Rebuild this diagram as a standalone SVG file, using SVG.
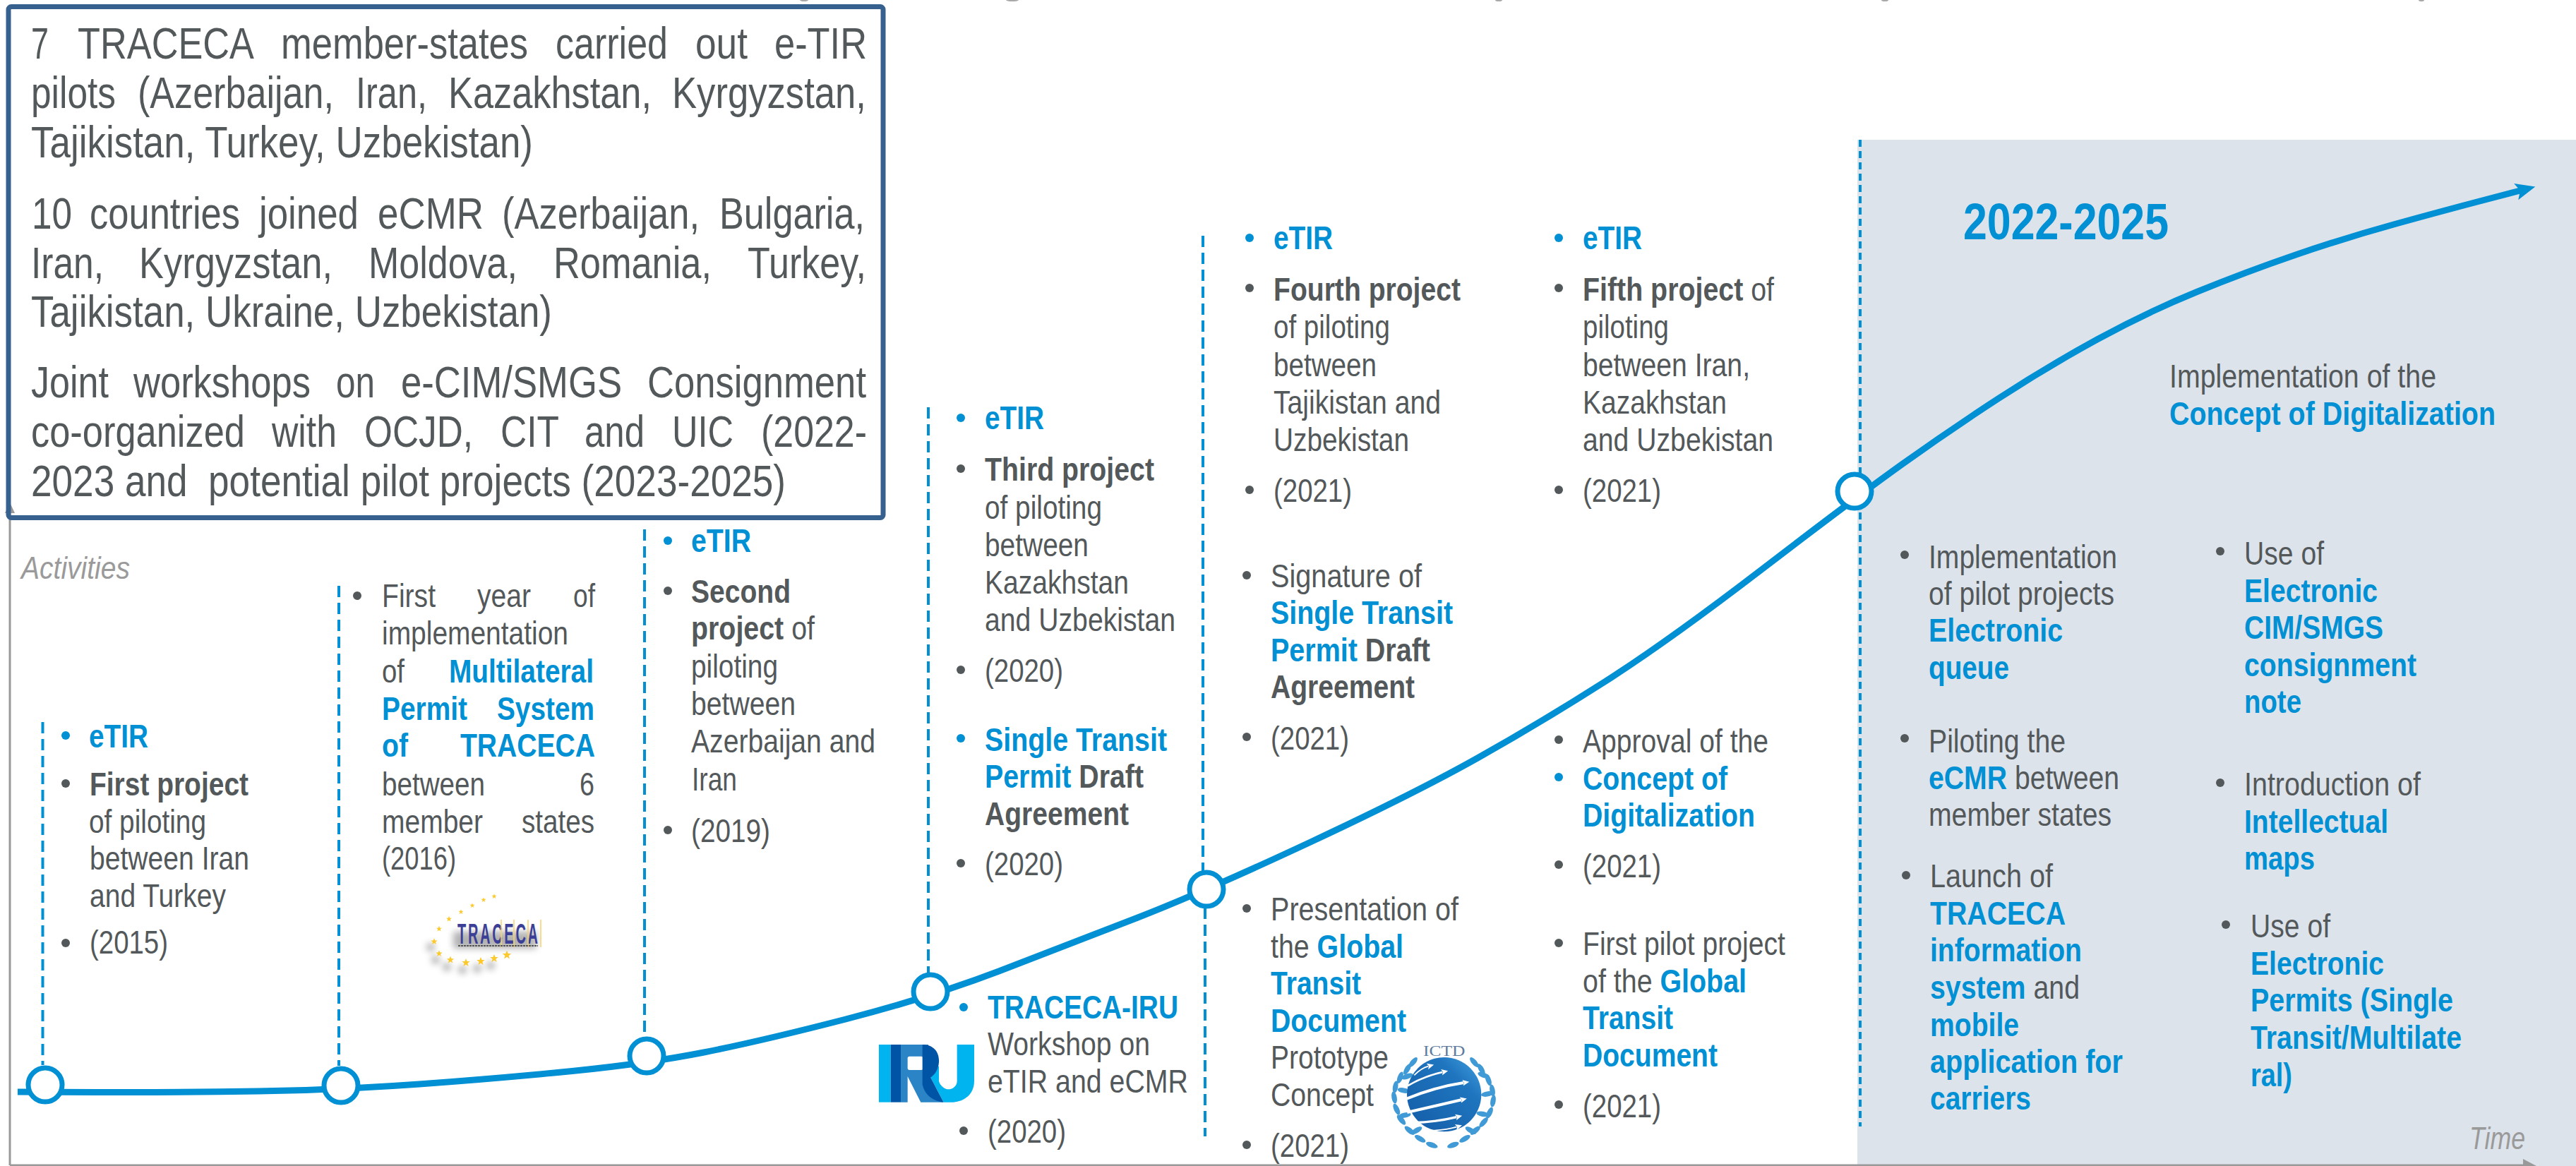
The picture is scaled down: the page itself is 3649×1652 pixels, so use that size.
<svg xmlns="http://www.w3.org/2000/svg" xmlns:xlink="http://www.w3.org/1999/xlink" width="3649" height="1652" viewBox="0 0 3649 1652">
<style>
text{font-family:"Liberation Sans",Arial,sans-serif}
.t{font-size:46px;fill:#53585a}
.l{font-size:63px;fill:#53585a}
.n{font-weight:700;fill:#0090d3}
.k{font-weight:700;fill:#53585a}
.r{fill:#53585a;font-weight:400}
.i{font-size:44px;font-style:italic;fill:#9a9a9a}
.d{fill:#53585a}
.e{fill:#0090d3}
.dash{fill:none;stroke:#0090d3;stroke-width:4;stroke-dasharray:16 8}
.node{fill:#fff;stroke:#0090d3;stroke-width:7}
.star{fill:#fcc92c}
.leaf{fill:#3f9ad6}
.arr{fill:none;stroke:#fff;stroke-width:12;marker-end:url(#wh)}
</style>
<defs>
<marker id="head" markerUnits="userSpaceOnUse" markerWidth="32" markerHeight="26" refX="6" refY="13" orient="auto"><path d="M0 1 L28 13 L0 25 L6 13 Z" fill="#0090d3"/></marker>
<marker id="wh" markerUnits="userSpaceOnUse" markerWidth="36" markerHeight="36" refX="4" refY="18" orient="auto"><path d="M0 5 L28 18 L0 31 L6 18 Z" fill="#fff"/></marker>
<filter id="blur" x="-30%" y="-30%" width="160%" height="160%"><feGaussianBlur stdDeviation="5"/></filter>
<linearGradient id="globe" x1="0" y1="1" x2="1" y2="0"><stop offset="0" stop-color="#145ca6"/><stop offset=".7" stop-color="#1f75bf"/><stop offset="1" stop-color="#45a3e0"/></linearGradient>
<path id="s" d="M0 -6 L1.6 -1.9 L5.7 -1.9 L2.4 .8 L3.5 5 L0 2.6 L-3.5 5 L-2.4 .8 L-5.7 -1.9 L-1.6 -1.9 Z"/>
<ellipse id="lf" rx="26" ry="11" class="leaf"/>
</defs>

<rect id="period-2022-2025" x="2631" y="198" width="1018" height="1454" fill="#dde3eb"/>

<g id="top-marks" fill="#a8a8a8">
<ellipse cx="1139" cy="0" rx="6" ry="2"/><ellipse cx="1434" cy="0" rx="9" ry="2"/><ellipse cx="2123" cy="0" rx="5" ry="2"/><ellipse cx="2670" cy="0" rx="5" ry="2"/><ellipse cx="3430" cy="0" rx="4" ry="2"/>
</g>

<g id="axes">
<path d="M14 1651 V720 M14 1651 H3580" fill="none" stroke="#999" stroke-width="3"/>
<path d="M14 712 L21 727 H7 Z" fill="#999"/>
<path d="M3574 1642 L3593 1652 L3593 1660 H3574 Z" fill="#999"/>
</g>

<g id="connectors">
<path class="dash" d="M60.500 1023 V1509"/>
<path class="dash" d="M480 830 V1510"/>
<path class="dash" d="M913 750 V1463"/>
<path class="dash" d="M1315 577 V1378"/>
<path class="dash" d="M1704 334 V1234"/>
<path class="dash" d="M1707 1286 V1610"/>
<path class="dash" d="M2635 198 V1596" style="stroke-dasharray:10 6"/>
<path id="timeline" fill="none" stroke="#0090d3" stroke-width="9" marker-end="url(#head)" d="M25 1547 L137 1547.500 Q249 1548 366 1546 Q483 1544 594 1536 Q705 1528 810.500 1517.500 Q916 1507 997 1491 Q1078 1475 1198 1444 Q1318 1413 1415 1376 Q1512 1339 1610.500 1300.500 Q1709 1262 1856.500 1193 Q2004 1124 2093 1074 Q2182 1024 2271.500 967 Q2361 910 2494 808 Q2627 706 2694 658 Q2761 610 2831 564.500 Q2901 519 2971.500 480.500 Q3042 442 3112 413.500 Q3182 385 3252 361 Q3322 337 3392.500 317.500 Q3463 298 3516.500 284 L3570 270"/>
</g>

<g id="milestones">
<circle class="node" cx="64" cy="1537" r="24"/>
<circle class="node" cx="483" cy="1538" r="24"/>
<circle class="node" cx="916" cy="1496" r="24"/>
<circle class="node" cx="1318" cy="1405" r="24"/>
<circle class="node" cx="1709" cy="1260" r="24"/>
<circle class="node" cx="2627" cy="696" r="24"/>
</g>

<g id="summary-box">
<g transform="translate(-2 0)">
<text class="l" x="46" y="83" textLength="25" lengthAdjust="spacingAndGlyphs">7</text>
<text class="l" x="112" y="83" textLength="250" lengthAdjust="spacingAndGlyphs">TRACECA</text>
<text class="l" x="400" y="83" textLength="350" lengthAdjust="spacingAndGlyphs">member-states</text>
<text class="l" x="789" y="83" textLength="159" lengthAdjust="spacingAndGlyphs">carried</text>
<text class="l" x="987" y="83" textLength="74" lengthAdjust="spacingAndGlyphs">out</text>
<text class="l" x="1099" y="83" textLength="131" lengthAdjust="spacingAndGlyphs">e-TIR</text>
<text class="l" x="46" y="153" textLength="120" lengthAdjust="spacingAndGlyphs">pilots</text>
<text class="l" x="197" y="153" textLength="278" lengthAdjust="spacingAndGlyphs">(Azerbaijan,</text>
<text class="l" x="506" y="153" textLength="101" lengthAdjust="spacingAndGlyphs">Iran,</text>
<text class="l" x="637" y="153" textLength="288" lengthAdjust="spacingAndGlyphs">Kazakhstan,</text>
<text class="l" x="954" y="153" textLength="275" lengthAdjust="spacingAndGlyphs">Kyrgyzstan,</text>
<text class="l" x="46" y="223" textLength="711" lengthAdjust="spacingAndGlyphs">Tajikistan, Turkey, Uzbekistan)</text>
<text class="l" x="47" y="324" textLength="57" lengthAdjust="spacingAndGlyphs">10</text>
<text class="l" x="129" y="324" textLength="213" lengthAdjust="spacingAndGlyphs">countries</text>
<text class="l" x="369" y="324" textLength="141" lengthAdjust="spacingAndGlyphs">joined</text>
<text class="l" x="537" y="324" textLength="150" lengthAdjust="spacingAndGlyphs">eCMR</text>
<text class="l" x="713" y="324" textLength="280" lengthAdjust="spacingAndGlyphs">(Azerbaijan,</text>
<text class="l" x="1021" y="324" textLength="206" lengthAdjust="spacingAndGlyphs">Bulgaria,</text>
<text class="l" x="46" y="394" textLength="103" lengthAdjust="spacingAndGlyphs">Iran,</text>
<text class="l" x="199" y="394" textLength="274" lengthAdjust="spacingAndGlyphs">Kyrgyzstan,</text>
<text class="l" x="524" y="394" textLength="211" lengthAdjust="spacingAndGlyphs">Moldova,</text>
<text class="l" x="786" y="394" textLength="224" lengthAdjust="spacingAndGlyphs">Romania,</text>
<text class="l" x="1061" y="394" textLength="168" lengthAdjust="spacingAndGlyphs">Turkey,</text>
<text class="l" x="46" y="463" textLength="738" lengthAdjust="spacingAndGlyphs">Tajikistan, Ukraine, Uzbekistan)</text>
<text class="l" x="46" y="563" textLength="110" lengthAdjust="spacingAndGlyphs">Joint</text>
<text class="l" x="191" y="563" textLength="251" lengthAdjust="spacingAndGlyphs">workshops</text>
<text class="l" x="478" y="563" textLength="55" lengthAdjust="spacingAndGlyphs">on</text>
<text class="l" x="570" y="563" textLength="313" lengthAdjust="spacingAndGlyphs">e-CIM/SMGS</text>
<text class="l" x="919" y="563" textLength="310" lengthAdjust="spacingAndGlyphs">Consignment</text>
<text class="l" x="46" y="633" textLength="303" lengthAdjust="spacingAndGlyphs">co-organized</text>
<text class="l" x="387" y="633" textLength="92" lengthAdjust="spacingAndGlyphs">with</text>
<text class="l" x="518" y="633" textLength="154" lengthAdjust="spacingAndGlyphs">OCJD,</text>
<text class="l" x="711" y="633" textLength="83" lengthAdjust="spacingAndGlyphs">CIT</text>
<text class="l" x="830" y="633" textLength="85" lengthAdjust="spacingAndGlyphs">and</text>
<text class="l" x="954" y="633" textLength="87" lengthAdjust="spacingAndGlyphs">UIC</text>
<text class="l" x="1080" y="633" textLength="150" lengthAdjust="spacingAndGlyphs">(2022-</text>
<text class="l" x="46" y="703" textLength="1069" lengthAdjust="spacingAndGlyphs" xml:space="preserve">2023 and  potential pilot projects (2023-2025)</text>
</g>
<rect x="12" y="9.500" width="1239" height="724" rx="4" fill="none" stroke="#36618f" stroke-width="7"/>
</g>

<text id="label-activities" class="i" x="30" y="820" textLength="154" lengthAdjust="spacingAndGlyphs">Activities</text>
<text id="label-time" class="i" x="3498" y="1628" textLength="79" lengthAdjust="spacingAndGlyphs">Time</text>

<g id="activity-2015" transform="translate(-1 0)">
<circle class="e" cx="94" cy="1042" r="6"/><circle class="d" cx="94" cy="1110" r="6"/><circle class="d" cx="94" cy="1336" r="6"/>
<text class="t n" x="127" y="1059" textLength="84" lengthAdjust="spacingAndGlyphs">eTIR</text>
<text class="t k" x="128" y="1127" textLength="225" lengthAdjust="spacingAndGlyphs">First project</text>
<text class="t" x="127" y="1180" textLength="166" lengthAdjust="spacingAndGlyphs">of piloting</text>
<text class="t" x="128" y="1232" textLength="226" lengthAdjust="spacingAndGlyphs">between Iran</text>
<text class="t" x="128" y="1285" textLength="193" lengthAdjust="spacingAndGlyphs">and Turkey</text>
<text class="t" x="128" y="1351" textLength="111" lengthAdjust="spacingAndGlyphs">(2015)</text>
</g>

<g id="activity-2016" transform="translate(-1 0)">
<circle class="d" cx="507" cy="844" r="6"/>
<text class="t" x="542" y="860" textLength="76" lengthAdjust="spacingAndGlyphs">First</text>
<text class="t" x="677" y="860" textLength="76" lengthAdjust="spacingAndGlyphs">year</text>
<text class="t" x="813" y="860" textLength="31" lengthAdjust="spacingAndGlyphs">of</text>
<text class="t" x="542" y="913" textLength="264" lengthAdjust="spacingAndGlyphs">implementation</text>
<text class="t" x="542" y="967" textLength="32" lengthAdjust="spacingAndGlyphs">of</text>
<text class="t n" x="637" y="967" textLength="205" lengthAdjust="spacingAndGlyphs">Multilateral</text>
<text class="t n" x="542" y="1020" textLength="121" lengthAdjust="spacingAndGlyphs">Permit</text>
<text class="t n" x="705" y="1020" textLength="138" lengthAdjust="spacingAndGlyphs">System</text>
<text class="t n" x="542" y="1072" textLength="37" lengthAdjust="spacingAndGlyphs">of</text>
<text class="t n" x="653" y="1072" textLength="191" lengthAdjust="spacingAndGlyphs">TRACECA</text>
<text class="t" x="542" y="1127" textLength="146" lengthAdjust="spacingAndGlyphs">between</text>
<text class="t" x="822" y="1127" textLength="21" lengthAdjust="spacingAndGlyphs">6</text>
<text class="t" x="542" y="1180" textLength="143" lengthAdjust="spacingAndGlyphs">member</text>
<text class="t" x="740" y="1180" textLength="103" lengthAdjust="spacingAndGlyphs">states</text>
<text class="t" x="542" y="1232" textLength="105" lengthAdjust="spacingAndGlyphs">(2016)</text>
</g>

<g id="logo-traceca">
<g filter="url(#blur)" fill="#808080" opacity=".6">
<rect x="642" y="1320" width="118" height="24"/>
<circle cx="610" cy="1342" r="6"/><circle cx="617" cy="1360" r="6"/><circle cx="633" cy="1370" r="6"/><circle cx="655" cy="1374" r="6"/><circle cx="676" cy="1372" r="6"/><circle cx="695" cy="1368" r="6"/>
</g>
<g class="star">
<use xlink:href="#s" href="#s" transform="translate(700 1270) scale(.6)"/>
<use xlink:href="#s" href="#s" transform="translate(685 1275) scale(.6)"/>
<use xlink:href="#s" href="#s" transform="translate(669 1283) scale(.6)"/>
<use xlink:href="#s" href="#s" transform="translate(653 1292) scale(.6)"/>
<use xlink:href="#s" href="#s" transform="translate(636 1302) scale(.7)"/>
<use xlink:href="#s" href="#s" transform="translate(622 1316) scale(.7)"/>
<use xlink:href="#s" href="#s" transform="translate(615 1334) scale(.8)"/>
<use xlink:href="#s" href="#s" transform="translate(622 1351) scale(.8)"/>
<use xlink:href="#s" href="#s" transform="translate(638 1360) scale(.9)"/>
<use xlink:href="#s" href="#s" transform="translate(660 1364) scale(1)"/>
<use xlink:href="#s" href="#s" transform="translate(681 1362) scale(1)"/>
<use xlink:href="#s" href="#s" transform="translate(700 1358) scale(1)"/>
<use xlink:href="#s" href="#s" transform="translate(718 1353) scale(1.100)"/>
</g>
<text transform="translate(648 1337) scale(.5 1)" font-size="40" font-weight="700" fill="#3b3f96" textLength="228" lengthAdjust="spacing">TRACECA</text>
<path d="M710 1303 V1342 M728 1303 V1342 M748 1303 V1342 M766 1303 V1342" stroke="#f7d26a" stroke-width="1.500" fill="none"/>
<path d="M649 1340 H762" stroke="#555" stroke-width="2" stroke-dasharray="3 1" fill="none"/>
</g>

<g id="activity-2019" transform="translate(-1 0)">
<circle class="e" cx="947" cy="766" r="6"/><circle class="d" cx="947" cy="837" r="6"/><circle class="d" cx="947" cy="1176" r="6"/>
<text class="t n" x="980" y="782" textLength="85" lengthAdjust="spacingAndGlyphs">eTIR</text>
<text class="t k" x="980" y="854" textLength="141" lengthAdjust="spacingAndGlyphs">Second</text>
<text class="t" x="980" y="906" textLength="175" lengthAdjust="spacingAndGlyphs"><tspan class="k">project</tspan> of</text>
<text class="t" x="980" y="960" textLength="123" lengthAdjust="spacingAndGlyphs">piloting</text>
<text class="t" x="980" y="1013" textLength="148" lengthAdjust="spacingAndGlyphs">between</text>
<text class="t" x="980" y="1066" textLength="261" lengthAdjust="spacingAndGlyphs">Azerbaijan and</text>
<text class="t" x="981" y="1120" textLength="64" lengthAdjust="spacingAndGlyphs">Iran</text>
<text class="t" x="980" y="1193" textLength="112" lengthAdjust="spacingAndGlyphs">(2019)</text>
</g>

<g id="activity-2020" transform="translate(-1 -1)">
<circle class="e" cx="1362" cy="593" r="6"/><circle class="d" cx="1362" cy="665" r="6"/><circle class="d" cx="1362" cy="950" r="6"/><circle class="e" cx="1362" cy="1047" r="6"/><circle class="d" cx="1362" cy="1224" r="6"/><circle class="e" cx="1366" cy="1428" r="6"/><circle class="d" cx="1366" cy="1603" r="6"/>
<text class="t n" x="1396" y="609" textLength="84" lengthAdjust="spacingAndGlyphs">eTIR</text>
<text class="t k" x="1396" y="682" textLength="240" lengthAdjust="spacingAndGlyphs">Third project</text>
<text class="t" x="1396" y="736" textLength="166" lengthAdjust="spacingAndGlyphs">of piloting</text>
<text class="t" x="1396" y="789" textLength="147" lengthAdjust="spacingAndGlyphs">between</text>
<text class="t" x="1396" y="842" textLength="204" lengthAdjust="spacingAndGlyphs">Kazakhstan</text>
<text class="t" x="1396" y="895" textLength="270" lengthAdjust="spacingAndGlyphs">and Uzbekistan</text>
<text class="t" x="1396" y="967" textLength="111" lengthAdjust="spacingAndGlyphs">(2020)</text>
<text class="t n" x="1396" y="1065" textLength="258" lengthAdjust="spacingAndGlyphs">Single Transit</text>
<text class="t n" x="1396" y="1117" textLength="225" lengthAdjust="spacingAndGlyphs">Permit <tspan class="k">Draft</tspan></text>
<text class="t k" x="1396" y="1170" textLength="204" lengthAdjust="spacingAndGlyphs">Agreement</text>
<text class="t" x="1396" y="1241" textLength="111" lengthAdjust="spacingAndGlyphs">(2020)</text>
<text class="t n" x="1400" y="1444" textLength="270" lengthAdjust="spacingAndGlyphs">TRACECA-IRU</text>
<text class="t" x="1400" y="1496" textLength="230" lengthAdjust="spacingAndGlyphs">Workshop on</text>
<text class="t" x="1400" y="1549" textLength="284" lengthAdjust="spacingAndGlyphs">eTIR and eCMR</text>
<text class="t" x="1400" y="1620" textLength="111" lengthAdjust="spacingAndGlyphs">(2020)</text>
</g>

<g id="logo-iru" transform="translate(1235 1470) scale(.3333)">
<rect x="30" y="30" width="50" height="245" fill="#00b5ef"/>
<path d="M362 30 H435 V185 C435 250 380 275 340 275 H305 L250 170 L285 120 V185 C290 205 310 220 325 220 C345 220 362 205 362 185 Z" fill="#00b5ef"/>
<path d="M123 30 H240 V240 L305 275 H208 L152 165 V275 H123 Z" fill="#2b84c6"/>
<rect x="152" y="80" width="66" height="58" rx="8" fill="#fff"/>
<rect x="80" y="30" width="43" height="245" fill="#0054a6"/>
<path d="M215 30 C265 30 288 65 285 105 C283 135 270 155 250 170 L305 275 C260 270 225 245 215 200 Z" fill="#0054a6"/>
</g>

<g id="activity-2021-a" transform="translate(-1 -1)">
<circle class="e" cx="1771" cy="338" r="6"/><circle class="d" cx="1771" cy="409" r="6"/><circle class="d" cx="1771" cy="695" r="6"/><circle class="d" cx="1767" cy="816" r="6"/><circle class="d" cx="1767" cy="1045" r="6"/><circle class="d" cx="1767" cy="1288" r="6"/><circle class="d" cx="1767" cy="1623" r="6"/>
<text class="t n" x="1805" y="354" textLength="84" lengthAdjust="spacingAndGlyphs">eTIR</text>
<text class="t k" x="1805" y="427" textLength="265" lengthAdjust="spacingAndGlyphs">Fourth project</text>
<text class="t" x="1805" y="480" textLength="165" lengthAdjust="spacingAndGlyphs">of piloting</text>
<text class="t" x="1805" y="534" textLength="146" lengthAdjust="spacingAndGlyphs">between</text>
<text class="t" x="1805" y="587" textLength="237" lengthAdjust="spacingAndGlyphs">Tajikistan and</text>
<text class="t" x="1805" y="640" textLength="192" lengthAdjust="spacingAndGlyphs">Uzbekistan</text>
<text class="t" x="1805" y="712" textLength="111" lengthAdjust="spacingAndGlyphs">(2021)</text>
<text class="t" x="1801" y="833" textLength="214" lengthAdjust="spacingAndGlyphs">Signature of</text>
<text class="t n" x="1801" y="885" textLength="258" lengthAdjust="spacingAndGlyphs">Single Transit</text>
<text class="t n" x="1801" y="938" textLength="226" lengthAdjust="spacingAndGlyphs">Permit <tspan class="k">Draft</tspan></text>
<text class="t k" x="1801" y="990" textLength="204" lengthAdjust="spacingAndGlyphs">Agreement</text>
<text class="t" x="1801" y="1063" textLength="111" lengthAdjust="spacingAndGlyphs">(2021)</text>
<text class="t" x="1801" y="1305" textLength="266" lengthAdjust="spacingAndGlyphs">Presentation of</text>
<text class="t" x="1801" y="1358" textLength="188" lengthAdjust="spacingAndGlyphs">the <tspan class="n">Global</tspan></text>
<text class="t n" x="1801" y="1410" textLength="128" lengthAdjust="spacingAndGlyphs">Transit</text>
<text class="t n" x="1801" y="1463" textLength="192" lengthAdjust="spacingAndGlyphs">Document</text>
<text class="t" x="1801" y="1515" textLength="167" lengthAdjust="spacingAndGlyphs">Prototype</text>
<text class="t" x="1801" y="1568" textLength="146" lengthAdjust="spacingAndGlyphs">Concept</text>
<text class="t" x="1801" y="1640" textLength="111" lengthAdjust="spacingAndGlyphs">(2021)</text>
</g>

<g id="logo-ictd" transform="translate(1960 1460) scale(.3333)">
<text x="168" y="108" font-size="62" fill="#5d7c9d" textLength="178" lengthAdjust="spacingAndGlyphs" style="font-family:'Liberation Serif',serif">ICTD</text>
<g>
<use xlink:href="#lf" href="#lf" transform="translate(125 135) rotate(-50)"/><use xlink:href="#lf" href="#lf" transform="translate(100 165) rotate(-60)"/><use xlink:href="#lf" href="#lf" transform="translate(70 200) rotate(-70)"/><use xlink:href="#lf" href="#lf" transform="translate(50 240) rotate(-80)"/><use xlink:href="#lf" href="#lf" transform="translate(45 285) rotate(80)"/><use xlink:href="#lf" href="#lf" transform="translate(55 335) rotate(65)"/><use xlink:href="#lf" href="#lf" transform="translate(75 380) rotate(50)"/><use xlink:href="#lf" href="#lf" transform="translate(110 425) rotate(40)"/><use xlink:href="#lf" href="#lf" transform="translate(155 460) rotate(30)"/><use xlink:href="#lf" href="#lf" transform="translate(205 487) rotate(20)"/>
<use xlink:href="#lf" href="#lf" transform="translate(100 195) rotate(-20)"/><use xlink:href="#lf" href="#lf" transform="translate(85 255) rotate(10)"/><use xlink:href="#lf" href="#lf" transform="translate(90 360) rotate(-10)"/><use xlink:href="#lf" href="#lf" transform="translate(140 425) rotate(-30)"/>
<use xlink:href="#lf" href="#lf" transform="translate(385 135) rotate(50)"/><use xlink:href="#lf" href="#lf" transform="translate(415 165) rotate(60)"/><use xlink:href="#lf" href="#lf" transform="translate(445 210) rotate(70)"/><use xlink:href="#lf" href="#lf" transform="translate(462 255) rotate(80)"/><use xlink:href="#lf" href="#lf" transform="translate(465 300) rotate(-80)"/><use xlink:href="#lf" href="#lf" transform="translate(450 350) rotate(-65)"/><use xlink:href="#lf" href="#lf" transform="translate(425 390) rotate(-50)"/><use xlink:href="#lf" href="#lf" transform="translate(390 425) rotate(-40)"/><use xlink:href="#lf" href="#lf" transform="translate(345 460) rotate(-30)"/><use xlink:href="#lf" href="#lf" transform="translate(295 487) rotate(-20)"/>
<use xlink:href="#lf" href="#lf" transform="translate(425 190) rotate(20)"/><use xlink:href="#lf" href="#lf" transform="translate(440 270) rotate(-10)"/><use xlink:href="#lf" href="#lf" transform="translate(420 355) rotate(10)"/><use xlink:href="#lf" href="#lf" transform="translate(370 425) rotate(30)"/>
</g>
<circle cx="257" cy="272" r="158" fill="url(#globe)"/>
<path class="arr" style="stroke-width:5" d="M130 190 Q160 160 190 152"/>
<path class="arr" style="stroke-width:8" d="M102 235 Q170 195 250 177"/>
<path class="arr" style="stroke-width:12" d="M98 290 Q220 240 340 222"/>
<path class="arr" style="stroke-width:12" d="M100 348 Q220 320 330 295"/>
<path class="arr" style="stroke-width:10" d="M122 392 Q220 390 310 368"/>
<path class="arr" style="stroke-width:5" d="M190 425 Q260 425 310 410"/>
</g>

<g id="activity-2021-b" transform="translate(-1 -1)">
<circle class="e" cx="2209" cy="338" r="6"/><circle class="d" cx="2209" cy="409" r="6"/><circle class="d" cx="2209" cy="695" r="6"/><circle class="d" cx="2209" cy="1049" r="6"/><circle class="e" cx="2209" cy="1102" r="6"/><circle class="d" cx="2209" cy="1226" r="6"/><circle class="d" cx="2209" cy="1337" r="6"/><circle class="d" cx="2209" cy="1566" r="6"/>
<text class="t n" x="2243" y="354" textLength="84" lengthAdjust="spacingAndGlyphs">eTIR</text>
<text class="t" x="2243" y="427" textLength="271" lengthAdjust="spacingAndGlyphs"><tspan class="k">Fifth project</tspan> of</text>
<text class="t" x="2243" y="480" textLength="122" lengthAdjust="spacingAndGlyphs">piloting</text>
<text class="t" x="2243" y="534" textLength="237" lengthAdjust="spacingAndGlyphs">between Iran,</text>
<text class="t" x="2243" y="587" textLength="204" lengthAdjust="spacingAndGlyphs">Kazakhstan</text>
<text class="t" x="2243" y="640" textLength="270" lengthAdjust="spacingAndGlyphs">and Uzbekistan</text>
<text class="t" x="2243" y="712" textLength="111" lengthAdjust="spacingAndGlyphs">(2021)</text>
<text class="t" x="2243" y="1067" textLength="263" lengthAdjust="spacingAndGlyphs">Approval of the</text>
<text class="t n" x="2243" y="1120" textLength="205" lengthAdjust="spacingAndGlyphs">Concept of</text>
<text class="t n" x="2243" y="1172" textLength="244" lengthAdjust="spacingAndGlyphs">Digitalization</text>
<text class="t" x="2243" y="1244" textLength="111" lengthAdjust="spacingAndGlyphs">(2021)</text>
<text class="t" x="2243" y="1354" textLength="287" lengthAdjust="spacingAndGlyphs">First pilot project</text>
<text class="t" x="2243" y="1407" textLength="232" lengthAdjust="spacingAndGlyphs">of the <tspan class="n">Global</tspan></text>
<text class="t n" x="2243" y="1459" textLength="128" lengthAdjust="spacingAndGlyphs">Transit</text>
<text class="t n" x="2243" y="1512" textLength="191" lengthAdjust="spacingAndGlyphs">Document</text>
<text class="t" x="2243" y="1584" textLength="111" lengthAdjust="spacingAndGlyphs">(2021)</text>
</g>

<g id="period-heading" transform="translate(-2 0)">
<text x="2783" y="339" font-size="72" class="n" textLength="291" lengthAdjust="spacingAndGlyphs">2022-2025</text>
<text class="t" x="3075" y="549" textLength="378" lengthAdjust="spacingAndGlyphs">Implementation of the</text>
<text class="t n" x="3075" y="602" textLength="462" lengthAdjust="spacingAndGlyphs">Concept of Digitalization</text>
</g>

<g id="plans-left" transform="translate(-2 -2)">
<circle class="d" cx="2700" cy="788" r="6"/><circle class="d" cx="2700" cy="1048" r="6"/><circle class="d" cx="2702" cy="1242" r="6"/>
<text class="t" x="2734" y="807" textLength="267" lengthAdjust="spacingAndGlyphs">Implementation</text>
<text class="t" x="2734" y="859" textLength="263" lengthAdjust="spacingAndGlyphs">of pilot projects</text>
<text class="t n" x="2734" y="911" textLength="190" lengthAdjust="spacingAndGlyphs">Electronic</text>
<text class="t n" x="2734" y="964" textLength="114" lengthAdjust="spacingAndGlyphs">queue</text>
<text class="t" x="2734" y="1068" textLength="194" lengthAdjust="spacingAndGlyphs">Piloting the</text>
<text class="t" x="2734" y="1120" textLength="270" lengthAdjust="spacingAndGlyphs"><tspan class="n">eCMR</tspan> between</text>
<text class="t" x="2734" y="1172" textLength="259" lengthAdjust="spacingAndGlyphs">member states</text>
<text class="t" x="2736" y="1259" textLength="174" lengthAdjust="spacingAndGlyphs">Launch of</text>
<text class="t n" x="2736" y="1312" textLength="192" lengthAdjust="spacingAndGlyphs">TRACECA</text>
<text class="t n" x="2736" y="1364" textLength="215" lengthAdjust="spacingAndGlyphs">information</text>
<text class="t n" x="2736" y="1417" textLength="212" lengthAdjust="spacingAndGlyphs">system <tspan class="r">and</tspan></text>
<text class="t n" x="2736" y="1470" textLength="126" lengthAdjust="spacingAndGlyphs">mobile</text>
<text class="t n" x="2736" y="1522" textLength="273" lengthAdjust="spacingAndGlyphs">application for</text>
<text class="t n" x="2736" y="1574" textLength="143" lengthAdjust="spacingAndGlyphs">carriers</text>
</g>

<g id="plans-right" transform="translate(-2 -2)">
<circle class="d" cx="3147" cy="783" r="6"/><circle class="d" cx="3147" cy="1111" r="6"/><circle class="d" cx="3155" cy="1312" r="6"/>
<text class="t" x="3181" y="802" textLength="113" lengthAdjust="spacingAndGlyphs">Use of</text>
<text class="t n" x="3181" y="855" textLength="189" lengthAdjust="spacingAndGlyphs">Electronic</text>
<text class="t n" x="3181" y="907" textLength="197" lengthAdjust="spacingAndGlyphs">CIM/SMGS</text>
<text class="t n" x="3181" y="960" textLength="244" lengthAdjust="spacingAndGlyphs">consignment</text>
<text class="t n" x="3181" y="1012" textLength="81" lengthAdjust="spacingAndGlyphs">note</text>
<text class="t" x="3181" y="1129" textLength="250" lengthAdjust="spacingAndGlyphs">Introduction of</text>
<text class="t n" x="3181" y="1182" textLength="204" lengthAdjust="spacingAndGlyphs">Intellectual</text>
<text class="t n" x="3181" y="1234" textLength="100" lengthAdjust="spacingAndGlyphs">maps</text>
<text class="t" x="3190" y="1330" textLength="113" lengthAdjust="spacingAndGlyphs">Use of</text>
<text class="t n" x="3190" y="1383" textLength="189" lengthAdjust="spacingAndGlyphs">Electronic</text>
<text class="t n" x="3190" y="1435" textLength="287" lengthAdjust="spacingAndGlyphs">Permits (Single</text>
<text class="t n" x="3190" y="1488" textLength="299" lengthAdjust="spacingAndGlyphs">Transit/Multilate</text>
<text class="t n" x="3190" y="1541" textLength="59" lengthAdjust="spacingAndGlyphs">ral)</text>
</g>
</svg>
